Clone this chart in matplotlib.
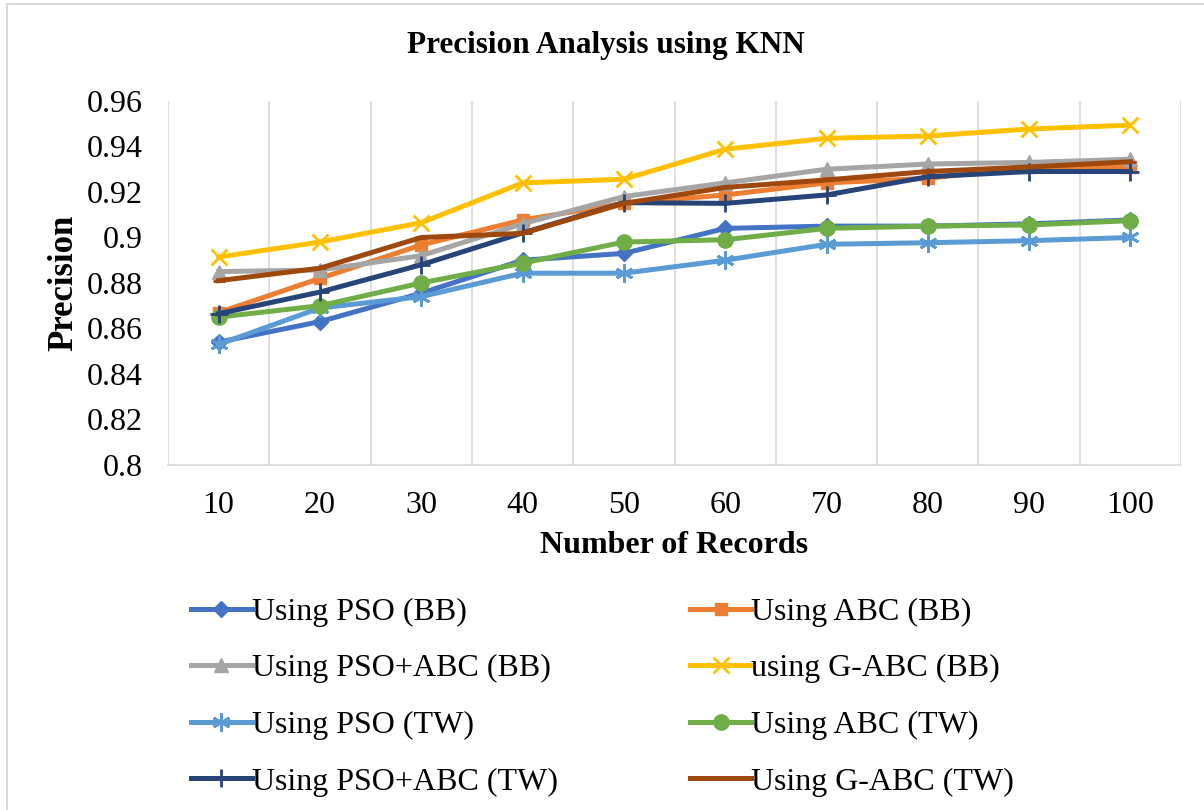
import numpy as np
import matplotlib.pyplot as plt
from matplotlib.patches import Rectangle

records = [10, 20, 30, 40, 50, 60, 70, 80, 90, 100]

pso_bb = [0.854, 0.863, 0.8755, 0.890, 0.893, 0.904, 0.905, 0.905, 0.906, 0.9077]
abc_bb = [0.867, 0.882, 0.8967, 0.9077, 0.915, 0.9187, 0.924, 0.926, 0.931, 0.931]
psoabc_bb = [0.885, 0.8857, 0.892, 0.906, 0.918, 0.924, 0.930, 0.9323, 0.933, 0.9344]
gabc_bb = [0.8914, 0.898, 0.9065, 0.924, 0.9256, 0.9388, 0.9436, 0.9446, 0.9477, 0.9494]
pso_tw = [0.853, 0.869, 0.874, 0.8843, 0.8843, 0.890, 0.897, 0.8977, 0.8986, 0.900]
abc_tw = [0.865, 0.870, 0.880, 0.8887, 0.898, 0.899, 0.904, 0.905, 0.9055, 0.9074]
psoabc_tw = [0.8665, 0.876, 0.888, 0.902, 0.9153, 0.915, 0.9187, 0.9267, 0.929, 0.929]
gabc_tw = [0.881, 0.8865, 0.900, 0.9018, 0.915, 0.922, 0.9253, 0.929, 0.931, 0.9333]

series = [
    ("Using PSO (BB)", pso_bb, "#4472C4", "D", 8),
    ("Using ABC (BB)", abc_bb, "#ED7D31", "s", 9),
    ("Using PSO+ABC (BB)", psoabc_bb, "#A5A5A5", "^", 10),
    ("using G-ABC (BB)", gabc_bb, "#FFC000", "x", 12),
    ("Using PSO (TW)", pso_tw, "#5B9BD5", (6, 2, 0), 13),
    ("Using ABC (TW)", abc_tw, "#70AD47", "o", 11),
    ("Using PSO+ABC (TW)", psoabc_tw, "#264478", "+", 13),
    ("Using G-ABC (TW)", gabc_tw, "#9E480E", "_", 8),
]

plt.rcParams['font.family'] = ['Liberation Serif', 'DejaVu Serif']

fig = plt.figure(figsize=(12.04, 8.10), dpi=100)
fig.patches.append(Rectangle((7 / 1204, -0.01), 1.02, 1.0 - 4 / 810 + 0.01, transform=fig.transFigure,
                             fill=False, edgecolor="#D9D9D9", linewidth=1.5))
ax = fig.add_axes([0.1395, 0.426, 0.8415, 0.4493])

x = np.arange(1, len(records) + 1)
lines = []
for label, vals, col, mk, ms in series:
    ln, = ax.plot(x, vals, color=col, linewidth=3.6, marker=mk, markersize=ms,
                  markeredgewidth=2 if mk in ("x", "+", (6, 2, 0), "_") else 1,
                  markeredgecolor=col, markerfacecolor=col, label=label)
    lines.append(ln)

ax.set_xlim(0.5, len(records) + 0.5)
ax.set_ylim(0.8, 0.96)
ax.set_xticks(x)
ax.set_xticklabels([str(r) for r in records])
yt = np.arange(0.8, 0.9601, 0.02)
ax.set_yticks(yt)
ax.set_yticklabels([f"{v:g}" for v in np.round(yt, 2)])
ax.set_xticks(np.arange(0.5, len(records) + 1, 1), minor=True)
ax.grid(True, which="minor", axis="x", color="#D9D9D9", linewidth=1.2)
ax.tick_params(which="both", length=0)
ax.tick_params(axis="y", labelsize=23, pad=18)
ax.tick_params(axis="x", labelsize=23, pad=19)
for s in ["top", "right", "left"]:
    ax.spines[s].set_visible(False)
ax.spines["bottom"].set_color("#D9D9D9")
ax.spines["bottom"].set_linewidth(1.2)

fig.text(606 / 1204, 1 - 53 / 810, "Precision Analysis using KNN", fontsize=22.5,
         fontweight="bold", ha="center", va="baseline")
ax.set_xlabel("Number of Records", fontsize=23, fontweight="bold", labelpad=8)
ax.set_ylabel("Precision", fontsize=25, fontweight="bold", labelpad=5)

# legend fills row by row: left column gets the even entries
order = [0, 2, 4, 6, 1, 3, 5, 7]
fig.legend([lines[i] for i in order], [series[i][0] for i in order],
           loc="upper left", bbox_to_anchor=(0.148, 0.278), ncol=2, frameon=False,
           fontsize=23, handlelength=1.9, handletextpad=0.0, columnspacing=4.15,
           labelspacing=0.85, borderaxespad=0)

fig.savefig("out.png", dpi=100)
